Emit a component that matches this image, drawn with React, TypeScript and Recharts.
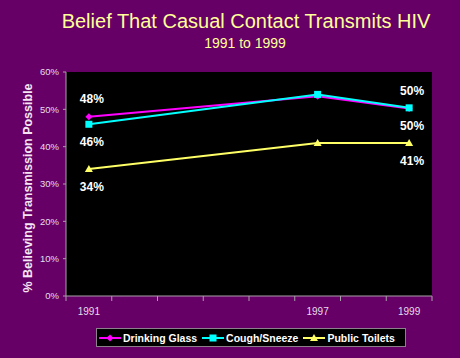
import React from "react";
import { LineChart, Line, XAxis, YAxis, CartesianGrid, Legend, LabelList } from "recharts";

// 8 slots on the category axis, only three are labelled in the original slide
const yearSlots = ["1991", "", "", "", "", "1997", "", "1999"];
const labelledSlots = [0, 5, 7];

const drinkingGlass = [48, null, null, null, null, 53.5, null, 50.2];
const coughSneeze = [46, null, null, null, null, 54, null, 50.4];
const publicToilets = [34, null, null, null, null, 41, null, 41];

const yTicks = [0, 10, 20, 30, 40, 50, 60];

// where the value labels sit, per slot index
const dgLabels: Record<number, string> = { 0: "above", 7: "above" };
const csLabels: Record<number, string> = { 0: "below", 7: "below" };
const ptLabels: Record<number, string> = { 0: "below", 7: "below" };

const BG = "#660066";
const AXIS = "#a8a0a8";
const TEXT = "#e8dce8";
const MAGENTA = "#ff00ff";
const CYAN = "#00ffff";
const YELLOW = "#ffff66";
const FONT = "'Liberation Sans', Arial, sans-serif";

const data = yearSlots.map((year, i) => ({
  idx: i,
  year,
  dg: drinkingGlass[i],
  cs: coughSneeze[i],
  pt: publicToilets[i],
}));

const boundaryTicks = yearSlots.map((_, i) => i - 0.5).concat(yearSlots.length - 0.5);

function Marker({ shape, cx, cy, color }: { shape: string; cx: number; cy: number; color: string }) {
  if (shape === "diamond")
    return <path d={`M${cx},${cy - 3.5}L${cx + 3.5},${cy}L${cx},${cy + 3.5}L${cx - 3.5},${cy}Z`} fill={color} />;
  if (shape === "square") return <rect x={cx - 3.5} y={cy - 3.5} width={7} height={7} fill={color} />;
  return <path d={`M${cx},${cy - 4}L${cx + 4},${cy + 3}L${cx - 4},${cy + 3}Z`} fill={color} />;
}

function dotFor(shape: string, color: string) {
  return (p: any) => {
    if (p.value == null || p.cy == null) return <g key={p.index} />;
    return <Marker key={p.index} shape={shape} cx={p.cx} cy={p.cy} color={color} />;
  };
}

function labelFor(places: Record<number, string>) {
  return (p: any) => {
    const where = places[p.index];
    if (!where || p.value == null) return null;
    const dy = where === "above" ? -14 : 22;
    return (
      <text
        x={p.x + 3}
        y={p.y + dy}
        textAnchor="middle"
        fill="#ffffff"
        fontFamily={FONT}
        fontWeight="bold"
        fontSize={12}
      >
        {`${Math.round(p.value)}%`}
      </text>
    );
  };
}

const legendItems = [
  { name: "Drinking Glass", color: MAGENTA, shape: "diamond" },
  { name: "Cough/Sneeze", color: CYAN, shape: "square" },
  { name: "Public Toilets", color: YELLOW, shape: "triangle" },
];

function LegendBox() {
  return (
    <div
      style={{
        display: "flex",
        alignItems: "center",
        background: "#000",
        border: "1px solid #8c808c",
        padding: "0 5px 0 2px",
        height: 17,
        fontFamily: FONT,
        fontWeight: "bold",
        fontSize: 10.5,
        color: "#fff",
        whiteSpace: "nowrap",
      }}
    >
      {legendItems.map((it) => (
        <div key={it.name} style={{ display: "flex", alignItems: "center", marginRight: 5 }}>
          <svg width={22} height={10} style={{ marginRight: 2 }}>
            <line x1={0} y1={5} x2={22} y2={5} stroke={it.color} strokeWidth={2} />
            <Marker shape={it.shape} cx={11} cy={5} color={it.color} />
          </svg>
          <span>{it.name}</span>
        </div>
      ))}
    </div>
  );
}

export default function App() {
  return (
    <div style={{ position: "fixed", left: 0, top: 0, width: 460, height: 358, background: BG }}>
      <div
        style={{
          position: "absolute",
          left: 0,
          top: 9,
          width: 492,
          textAlign: "center",
          color: "#ffff99",
          fontFamily: FONT,
          fontSize: 20,
          lineHeight: "24px",
        }}
      >
        Belief That Casual Contact Transmits HIV
      </div>
      <div
        style={{
          position: "absolute",
          left: 0,
          top: 34,
          width: 490,
          textAlign: "center",
          color: "#ffff99",
          fontFamily: FONT,
          fontSize: 14,
          lineHeight: "18px",
        }}
      >
        1991 to 1999
      </div>
      <LineChart width={460} height={358} data={data} margin={{ top: 72, right: 28, left: 0, bottom: 34 }}>
        <CartesianGrid fill="#000" horizontal={false} vertical={false} />
        <XAxis
          type="number"
          dataKey="idx"
          domain={[-0.5, yearSlots.length - 0.5]}
          ticks={boundaryTicks}
          tick={() => <g />}
          tickSize={5}
          height={6}
          axisLine={{ stroke: AXIS }}
          tickLine={{ stroke: AXIS }}
        />
        <XAxis
          xAxisId="label"
          type="number"
          dataKey="idx"
          domain={[-0.5, yearSlots.length - 0.5]}
          ticks={labelledSlots}
          tickFormatter={(v) => yearSlots[v]}
          axisLine={false}
          tickLine={false}
          tickSize={0}
          tickMargin={6}
          height={22}
          tick={{ fill: TEXT, fontSize: 10, fontFamily: FONT }}
        />
        <YAxis
          type="number"
          domain={[0, 60]}
          ticks={yTicks}
          tickFormatter={(v) => `${v}%`}
          width={66}
          tickSize={3}
          tickMargin={4}
          axisLine={{ stroke: AXIS }}
          tickLine={{ stroke: AXIS }}
          tick={{ fill: TEXT, fontSize: 9.5, fontFamily: FONT }}
          label={{
            content: ({ viewBox }: any) => (
              <text
                x={viewBox.x + 28}
                y={viewBox.y + viewBox.height / 2 + 4}
                transform={`rotate(-90 ${viewBox.x + 28} ${viewBox.y + viewBox.height / 2 + 4})`}
                textAnchor="middle"
                dominantBaseline="central"
                fill="#f4e6f4"
                fontFamily={FONT}
                fontWeight="bold"
                fontSize={12.5}
              >
                % Believing Transmission Possible
              </text>
            ),
          }}
        />
        <Legend
          verticalAlign="middle"
          align="center"
          layout="horizontal"
          wrapperStyle={{ position: "absolute", left: 96, top: 328, width: "auto" }}
          content={() => <LegendBox />}
        />
        <Line
          dataKey="dg"
          stroke={MAGENTA}
          strokeWidth={2}
          connectNulls
          isAnimationActive={false}
          dot={dotFor("diamond", MAGENTA)}
          activeDot={false}
        >
          <LabelList dataKey="dg" content={labelFor(dgLabels)} />
        </Line>
        <Line
          dataKey="cs"
          stroke={CYAN}
          strokeWidth={2}
          connectNulls
          isAnimationActive={false}
          dot={dotFor("square", CYAN)}
          activeDot={false}
        >
          <LabelList dataKey="cs" content={labelFor(csLabels)} />
        </Line>
        <Line
          dataKey="pt"
          stroke={YELLOW}
          strokeWidth={2}
          connectNulls
          isAnimationActive={false}
          dot={dotFor("triangle", YELLOW)}
          activeDot={false}
        >
          <LabelList dataKey="pt" content={labelFor(ptLabels)} />
        </Line>
      </LineChart>
    </div>
  );
}
